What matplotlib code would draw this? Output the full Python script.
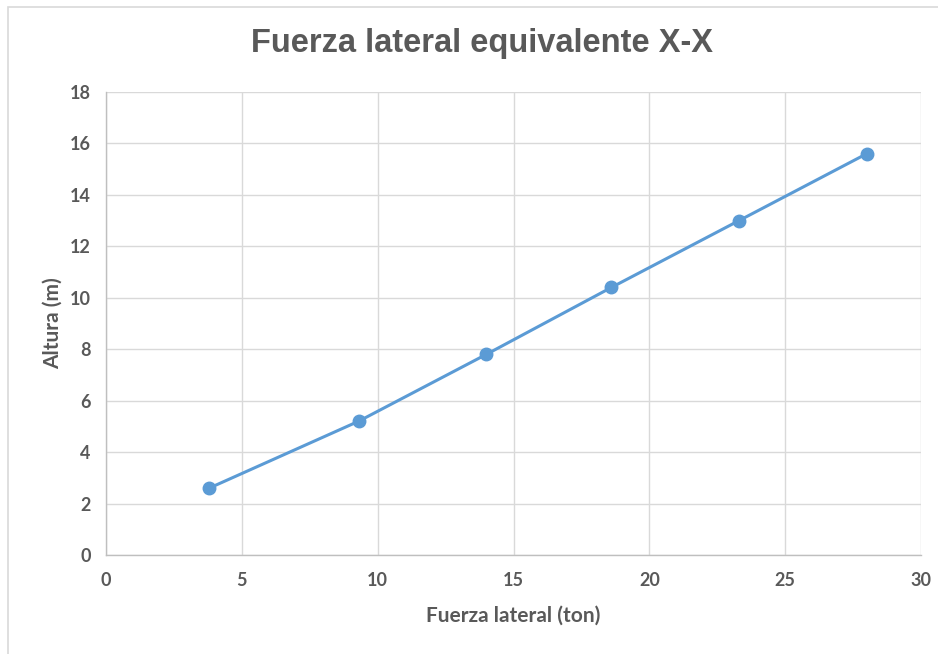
import matplotlib
matplotlib.use("Agg")
import matplotlib.pyplot as plt
from matplotlib.patches import Rectangle
from matplotlib import font_manager

# Story shear (ton) vs. floor height (m)
fuerza = [3.8, 9.3, 14.0, 18.6, 23.3, 28.0]
altura = [2.6, 5.2, 7.8, 10.4, 13.0, 15.6]

x_ticks = [0, 5, 10, 15, 20, 25, 30]
y_ticks = [0, 2, 4, 6, 8, 10, 12, 14, 16, 18]

names = {f.name for f in font_manager.fontManager.ttflist}
title_font = "Liberation Sans Narrow" if "Liberation Sans Narrow" in names else "Liberation Sans"
label_font = "Lato" if "Lato" in names else "DejaVu Sans"

grey_text = "#595959"
grid_col = "#d9d9d9"
axis_col = "#bfbfbf"
line_col = "#5b9bd5"

fig = plt.figure(figsize=(9.38, 6.54), dpi=100)
fig.patches.append(Rectangle((0.009, -0.01), 1.0, 0.999, transform=fig.transFigure,
                             fill=False, edgecolor="#d9d9d9", linewidth=1.2))

ax = fig.add_axes([0.113, 0.1514, 0.869, 0.708])
ax.plot(fuerza, altura, color=line_col, linewidth=2.2, marker="o",
        markersize=9, markerfacecolor=line_col, markeredgecolor=line_col, zorder=3)

ax.set_xlim(0, 30)
ax.set_ylim(0, 18)
ax.set_xticks(x_ticks)
ax.set_yticks(y_ticks)
ax.grid(True, color=grid_col, linewidth=1.0)
ax.set_axisbelow(True)
for side in ("top", "right"):
    ax.spines[side].set_visible(False)
for side in ("left", "bottom"):
    ax.spines[side].set_color(axis_col)
    ax.spines[side].set_linewidth(1.0)
ax.tick_params(axis="x", length=0, pad=12, labelsize=13, labelcolor=grey_text)
ax.tick_params(axis="y", length=0, pad=11, labelsize=13, labelcolor=grey_text)
for lab in ax.get_xticklabels() + ax.get_yticklabels():
    lab.set_fontfamily(label_font)
    lab.set_fontweight("bold")

ax.set_xlabel("Fuerza lateral (ton)", fontsize=15, fontweight="bold",
              color=grey_text, family=label_font, labelpad=12)
ax.set_ylabel("Altura (m)", fontsize=15, fontweight="bold",
              color=grey_text, family=label_font, labelpad=5)

fig.text(0.514, 0.933, "Fuerza lateral equivalente X-X", ha="center", va="center",
         fontsize=23.5, fontweight="bold", color=grey_text, family=title_font)

fig.savefig("out.png", dpi=100)
